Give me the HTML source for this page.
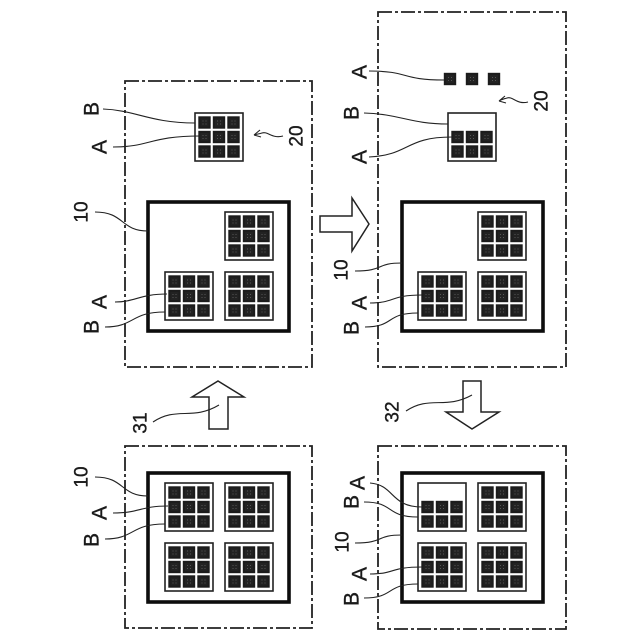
<!DOCTYPE html>
<html>
<head>
<meta charset="utf-8">
<style>
html,body{margin:0;padding:0;background:#fff;width:640px;height:640px;overflow:hidden}
svg{display:block;filter:blur(.3px)}
text{font-family:"Liberation Sans",sans-serif;fill:#1a1a1a;stroke:#1a1a1a;stroke-width:.35;text-anchor:middle;dominant-baseline:central}
.l{font-size:21px}
.n{font-size:19px}
.d{fill:none;stroke:#222;stroke-width:1.8;stroke-dasharray:14 3 3 3}
.c{fill:none;stroke:#0d0d0d;stroke-width:3.6}
.m{fill:#fff;stroke:#222;stroke-width:1.6}
.w{fill:none;stroke:#222;stroke-width:1.1}
.a{fill:#fff;stroke:#222;stroke-width:1.5}
</style>
</head>
<body>
<svg width="640" height="640" viewBox="0 0 640 640" xmlns="http://www.w3.org/2000/svg">
<defs>
<pattern id="p" width="3" height="3" patternUnits="userSpaceOnUse">
<rect width="3" height="3" fill="#222"/>
<rect x="1" y="1" width="1" height="1" fill="#555"/>
</pattern>
<g id="cell"><rect x="-.2" y="-.2" width="12.4" height="12.4" fill="#1c1c1c"/><rect x="2" y="2" width="8" height="8" fill="url(#p)"/></g>
<g id="row">
<use href="#cell" x="3.5"/><use href="#cell" x="18"/><use href="#cell" x="32.5"/>
</g>
<g id="mod">
<rect class="m" x="0" y="0" width="48" height="48"/>
<use href="#row" y="3.5"/><use href="#row" y="18"/><use href="#row" y="32.5"/>
</g>
<g id="mod2">
<rect class="m" x="0" y="0" width="48" height="48"/>
<use href="#row" y="18"/><use href="#row" y="32.5"/>
</g>
</defs>

<!-- dashed panels -->
<rect class="d" x="125" y="81" width="187" height="286"/>
<rect class="d" x="378" y="12" width="188" height="355"/>
<rect class="d" x="125" y="446" width="187" height="182"/>
<rect class="d" x="378" y="446" width="188" height="183"/>

<!-- chips -->
<rect class="c" x="148" y="202" width="141" height="129"/>
<rect class="c" x="402" y="202" width="141" height="129"/>
<rect class="c" x="148" y="473" width="141" height="129"/>
<rect class="c" x="402" y="473" width="141" height="129"/>

<!-- top-left modules -->
<use href="#mod" x="195" y="113"/>
<use href="#mod" x="225" y="212"/>
<use href="#mod" x="165" y="272"/>
<use href="#mod" x="225" y="272"/>

<!-- top-right modules -->
<use href="#cell" x="444" y="73"/><use href="#cell" x="466" y="73"/><use href="#cell" x="488" y="73"/>
<use href="#mod2" x="448" y="113"/>
<use href="#mod" x="478" y="212"/>
<use href="#mod" x="418" y="272"/>
<use href="#mod" x="478" y="272"/>

<!-- bottom-left modules -->
<use href="#mod" x="165" y="483"/>
<use href="#mod" x="225" y="483"/>
<use href="#mod" x="165" y="543"/>
<use href="#mod" x="225" y="543"/>

<!-- bottom-right modules -->
<use href="#mod2" x="418" y="483"/>
<use href="#mod" x="478" y="483"/>
<use href="#mod" x="418" y="543"/>
<use href="#mod" x="478" y="543"/>

<!-- block arrows -->
<polygon class="a" points="218,381 244,397 228,397 228,429 209,429 209,397 192,397"/>
<polygon class="a" points="369,224 352,198 352,216 320,216 320,232 352,232 352,251"/>
<polygon class="a" points="472,429 499,412 481,412 481,381 463,381 463,412 446,412"/>

<!-- leaders -->
<path class="w" d="M103,109C135,110 150,123 195,123"/>
<path class="w" d="M113,147C150,147 150,136 200,136"/>
<path class="w" d="M95,212C125,212 120,231 148,231"/>
<path class="w" d="M115,302C135,302 140,294 167,294"/>
<path class="w" d="M105,327C135,327 130,312 165,312"/>
<path class="w" d="M283,136C272,139 268,131 262,133C259,134 257,134 254,135M254,135L260,130M254,135L261,137"/>

<path class="w" d="M369,71C410,71 400,80 444,80"/>
<path class="w" d="M364,113C400,114 410,124 448,124"/>
<path class="w" d="M369,157C410,155 405,137 452,137"/>
<path class="w" d="M528,102C517,105 513,96 507,98C504,99 502,99 499,101M499,101L505,96M499,101L506,103"/>
<path class="w" d="M355,271C385,271 375,263 402,263"/>
<path class="w" d="M370,303C395,303 390,295 422,295"/>
<path class="w" d="M365,327C395,327 385,313 418,313"/>
<path class="w" d="M406,411C430,395 445,410 472,395"/>
<path class="w" d="M153,422C177,406 192,421 219,405"/>

<path class="w" d="M95,477C125,477 120,496 148,496"/>
<path class="w" d="M113,513C140,513 140,506 168,506"/>
<path class="w" d="M105,539C135,539 130,524 165,524"/>

<path class="w" d="M370,483C395,485 390,507 422,507"/>
<path class="w" d="M364,502C395,502 385,517 418,517"/>
<path class="w" d="M355,543C385,543 375,535 402,535"/>
<path class="w" d="M370,574C395,574 390,567 422,567"/>
<path class="w" d="M364,598C395,598 385,584 418,584"/>

<!-- labels -->
<text class="l" transform="translate(92,109) rotate(-90)">B</text>
<text class="l" transform="translate(100,147) rotate(-90)">A</text>
<text class="n" transform="translate(297,136) rotate(-90)">20</text>
<text class="n" transform="translate(82,212) rotate(-90)">10</text>
<text class="l" transform="translate(100,302) rotate(-90)">A</text>
<text class="l" transform="translate(92,327) rotate(-90)">B</text>

<text class="l" transform="translate(360,72) rotate(-90)">A</text>
<text class="l" transform="translate(352,113) rotate(-90)">B</text>
<text class="l" transform="translate(360,157) rotate(-90)">A</text>
<text class="n" transform="translate(542,101) rotate(-90)">20</text>
<text class="n" transform="translate(342,270) rotate(-90)">10</text>
<text class="l" transform="translate(360,303) rotate(-90)">A</text>
<text class="l" transform="translate(352,328) rotate(-90)">B</text>
<text class="n" transform="translate(393,412) rotate(-90)">32</text>

<text class="n" transform="translate(141,423) rotate(-90)">31</text>
<text class="n" transform="translate(82,477) rotate(-90)">10</text>
<text class="l" transform="translate(100,513) rotate(-90)">A</text>
<text class="l" transform="translate(92,540) rotate(-90)">B</text>

<text class="l" transform="translate(358,483) rotate(-90)">A</text>
<text class="l" transform="translate(352,502) rotate(-90)">B</text>
<text class="n" transform="translate(343,542) rotate(-90)">10</text>
<text class="l" transform="translate(360,574) rotate(-90)">A</text>
<text class="l" transform="translate(352,599) rotate(-90)">B</text>
</svg>
</body>
</html>
